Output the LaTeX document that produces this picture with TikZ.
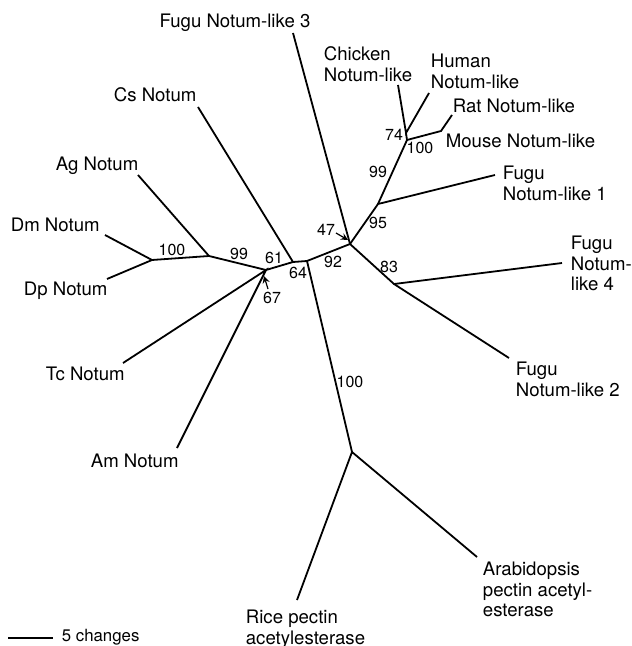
\documentclass[tikz,border=0pt]{standalone}
\usepackage{fontspec}
\setmainfont{TeX Gyre Heros}
\begin{document}
\begin{tikzpicture}[x=0.5pt, y=-0.5pt, line width=0.9pt,
  leaf/.style={inner sep=0pt, font=\fontsize{9.3}{10.3}\selectfont, align=left},
  boot/.style={inner sep=0pt, font=\fontsize{8}{9}\selectfont}]
\useasboundingbox (0,0) rectangle (631,646);
% inner nodes
\coordinate (1) at (152,260);
\coordinate (2) at (209,256);
\coordinate (3) at (266,270);
\coordinate (4) at (293,262);
\coordinate (5) at (307,261);
\coordinate (6) at (352,452);
\coordinate (7) at (350,244);
\coordinate (8) at (378,204);
\coordinate (9) at (407,140);
\coordinate (10) at (406,133);
\coordinate (11) at (441,131);
\coordinate (12) at (394,284);
% tips
\coordinate (dm) at (105,235);
\coordinate (dp) at (107,279);
\coordinate (ag) at (138,175);
\coordinate (tc) at (123,363);
\coordinate (am) at (177,448);
\coordinate (cs) at (198,107);
\coordinate (rice) at (297,600);
\coordinate (arab) at (477,557);
\coordinate (f3) at (293,33);
\coordinate (f1) at (495,175);
\coordinate (chick) at (398,85);
\coordinate (human) at (429,93);
\coordinate (rat) at (452,115);
\coordinate (f4) at (562,263);
\coordinate (f2) at (509,358);
% branches
\draw (dm) -- (1) -- (dp);
\draw (1) -- (2) -- (ag);
\draw (2) -- (3);
\draw (tc) -- (3) -- (am);
\draw (3) -- (4) -- (cs);
\draw (4) -- (5) -- (6);
\draw (rice) -- (6) -- (arab);
\draw (5) -- (7) -- (f3);
\draw (7) -- (8) -- (f1);
\draw (8) -- (9) -- (10);
\draw (chick) -- (10) -- (human);
\draw (9) -- (11) -- (rat);
\draw (7) -- (12) -- (f4);
\draw (12) -- (f2);
% leaf labels
\node[leaf, anchor=mid] (lf3) at (235,22) {Fugu Notum-like 3};
\node[leaf, anchor=mid west] (lcs) at (113,96) {Cs Notum};
\node[leaf, anchor=mid west] (lag) at (55,165) {Ag Notum};
\node[leaf, anchor=mid west] (ldm) at (10,226) {Dm Notum};
\node[leaf, anchor=mid west] (ldp) at (23,290) {Dp Notum};
\node[leaf, anchor=mid west] (ltc) at (45,375) {Tc Notum};
\node[leaf, anchor=mid west] (lam) at (90,462) {Am Notum};
\node[leaf, anchor=north west] (lrice) at (245,609) {Rice pectin\\acetylesterase};
\node[leaf, anchor=north west] (larab) at (482,561) {Arabidopsis\\pectin acetyl-\\esterase};
\node[leaf, anchor=north west] (lf2) at (515,361) {Fugu\\Notum-like 2};
\node[leaf, anchor=north west] (lf4) at (570,235) {Fugu\\Notum-\\like 4};
\node[leaf, anchor=north west] (lf1) at (502,165) {Fugu\\Notum-like 1};
\node[leaf, anchor=mid west] (lmouse) at (445,142) {Mouse Notum-like};
\node[leaf, anchor=mid west] (lrat) at (452,107) {Rat Notum-like};
\node[leaf, anchor=north west] (lhuman) at (430,53) {Human\\Notum-like};
\node[leaf, anchor=north west] (lchick) at (323,46) {Chicken\\Notum-like};
% bootstrap values
\node[boot] (b1) at (172,250) {100};
\node[boot] (b2) at (239,254) {99};
\node[boot] (b3) at (274,258) {61};
\node[boot] (b4) at (298,273) {64};
\node[boot] (b5) at (272,298) {67};
\node[boot] (b6) at (333,262) {92};
\node[boot] (b7) at (326,230) {47};
\node[boot] (b8) at (378,223) {95};
\node[boot] (b9) at (389,267) {83};
\node[boot] (b10) at (378,172) {99};
\node[boot] (b11) at (394,135) {74};
\node[boot] (b12) at (420,148) {100};
\node[boot] (b13) at (350,382) {100};
\coordinate (a47) at (336,233);
\coordinate (a67) at (268,289);
\draw[line width=0.6pt, -stealth] (a47) -- (348,240);
\draw[line width=0.6pt, -stealth] (a67) -- (264,276);
% scale bar
\coordinate (s1) at (8,638);
\coordinate (s2) at (53,638);
\draw (s1) -- (s2);
\node[boot, font=\fontsize{8.4}{9}\selectfont, anchor=mid west] (scale) at (61,636) {5 changes};
\end{tikzpicture}
\end{document}
